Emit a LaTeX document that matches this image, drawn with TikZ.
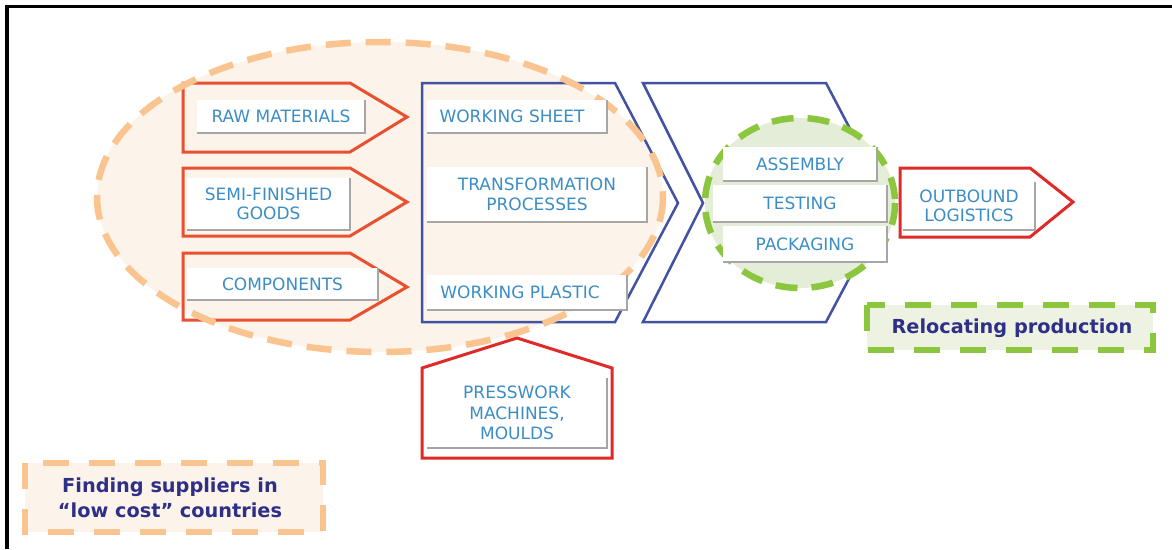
\documentclass[tikz,border=0pt]{standalone}
\usepackage{fontspec}
\setmainfont{DejaVu Sans}
\definecolor{lbltxt}{HTML}{3C8DC5}
\definecolor{redA}{HTML}{E8502F}
\definecolor{redB}{HTML}{E02A28}
\definecolor{blueC}{HTML}{4252A2}
\definecolor{orD}{HTML}{F9C48F}
\definecolor{orFill}{HTML}{FCF3EA}
\definecolor{grD}{HTML}{8CC63F}
\definecolor{grFill}{HTML}{E4EDD7}
\definecolor{grFill2}{HTML}{EEF2E3}
\definecolor{navy}{HTML}{2E2F86}
\definecolor{shade}{HTML}{A6A6A6}
\tikzset{
  lbl/.style={fill=white, inner sep=0pt, align=center, text=lbltxt,
    font=\fontsize{17}{19.5}\selectfont},
  shadowline/.style={draw=shade, line width=1.6},
  redarrow/.style={draw=redA, line width=3, line join=miter},
  redarrowB/.style={draw=redB, line width=3, line join=miter},
  chev/.style={draw=blueC, line width=2.5, line join=miter},
  ordash/.style={draw=orD, line width=6.5, dash pattern=on 25 off 15},
  grdash/.style={draw=grD, line width=6.5, dash pattern=on 22 off 14},
  boldtxt/.style={text=navy, align=center, font=\fontsize{19.3}{25}\selectfont\bfseries}
}
\newcommand{\shadowbox}[1]{\draw[shadowline] (#1.south west) -- (#1.south east) -- (#1.north east);}
\begin{document}
\begin{tikzpicture}[x=1pt,y=-1pt]
\useasboundingbox (0,0) rectangle (1172,549);
% frame
\draw[line width=3.5, black] (7,549) -- (7,6.5) -- (1172,6.5);
% orange ellipse fill
\fill[orFill] (380,197) ellipse [x radius=283, y radius=155];
% red arrows
\draw[redarrow] (183,83) -- (350,83) -- (407,117) -- (350,152) -- (183,152) -- cycle;
\draw[redarrow] (183,168) -- (350,168) -- (407,202) -- (350,236) -- (183,236) -- cycle;
\draw[redarrow] (183,253) -- (350,253) -- (407,287) -- (350,320) -- (183,320) -- cycle;
% chevrons
\draw[chev] (422,83) -- (615,83) -- (678,203) -- (615,322) -- (422,322) -- cycle;
\draw[chev] (643,83) -- (826,83) -- (889,203) -- (826,322) -- (643,322) -- (703,203) -- cycle;
% orange dashed ellipse
\draw[ordash] (380,197) ellipse [x radius=283, y radius=155];
% green circle
\fill[grFill] (800,203) ellipse [x radius=95, y radius=85];
\draw[grdash] (800,203) ellipse [x radius=95, y radius=85];
% outbound arrow
\draw[redarrowB] (900,168) -- (1030,168) -- (1073,202) -- (1030,237) -- (900,237) -- cycle;
% presswork house
\draw[redarrowB] (422,458) -- (422,368) -- (517,338) -- (612,368) -- (612,458) -- cycle;
% label boxes
\node[lbl, minimum width=168, minimum height=33] (raw) at (281,116.5) {RAW MATERIALS};
\node[lbl, minimum width=163, minimum height=52] (semi) at (268.5,204) {SEMI-FINISHED\\GOODS};
\node[lbl, minimum width=191, minimum height=32] (comp) at (282.5,284) {COMPONENTS};
\node[lbl, minimum width=180, minimum height=33] (wsheet) at (517,116.5) {WORKING SHEET\hspace*{10pt}};
\node[lbl, minimum width=220, minimum height=55] (trans) at (537,194.5) {TRANSFORMATION\\PROCESSES};
\node[lbl, minimum width=200, minimum height=35] (wplast) at (527,292.5) {WORKING PLASTIC\hspace*{14pt}};
\node[lbl, minimum width=154, minimum height=34] (asm) at (800,164) {ASSEMBLY};
\node[lbl, minimum width=174, minimum height=37] (test) at (800,203.5) {TESTING};
\node[lbl, minimum width=164, minimum height=36] (pack) at (805,244) {PACKAGING};
\node[lbl, minimum width=132, minimum height=48] (outb) at (969,206) {OUTBOUND\\LOGISTICS};
\node[lbl, minimum width=180, minimum height=70, font=\fontsize{17}{20.5}\selectfont] (press) at (517,413) {PRESSWORK\\MACHINES,\\MOULDS};
\foreach \n in {raw,semi,comp,wsheet,trans,wplast,asm,test,pack,outb,press} {\shadowbox{\n}}
% relocating production
\fill[grFill2] (867,305) rectangle (1153,350);
\draw[grdash, dash pattern=on 26 off 20] (867,305) rectangle (1153,350);
\node[boldtxt] (reloc) at (1012,328) {Relocating production};
% finding suppliers
\fill[orFill] (25,463) rectangle (323,532);
\draw[ordash, dash pattern=on 26 off 20] (25,463) rectangle (323,532);
\node[boldtxt] (find) at (170,498) {Finding suppliers in\\“low cost” countries};
\end{tikzpicture}
\end{document}
